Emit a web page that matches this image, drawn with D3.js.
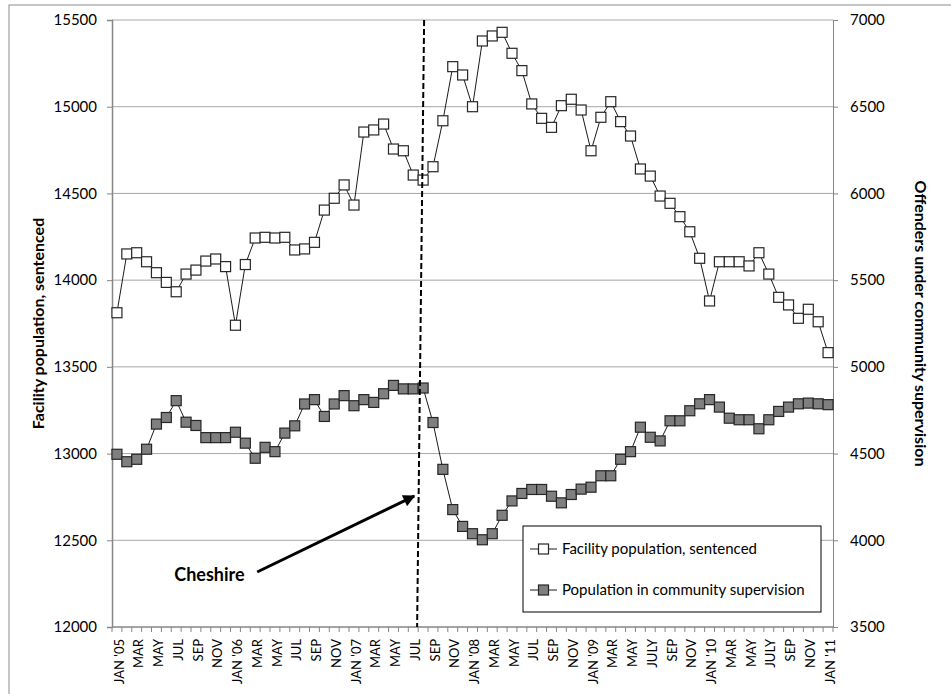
<!doctype html>
<html>
<head>
  <meta charset="utf-8">
  <script src="https://d3js.org/d3.v7.min.js"></script>
  <style>
    body { margin: 0; background: #fff; }
    svg text { font-family: Lato, "Open Sans", sans-serif; fill: #000; }
  </style>
</head>
<body>
<svg width="951" height="694"></svg>
<script>
// month labels, Jan 2005 .. Jan 2011 (empty = unlabelled month)
var months = [
  "JAN '05","","MAR","","MAY","","JUL","","SEP","","NOV","",
  "JAN '06","","MAR","","MAY","","JUL","","SEP","","NOV","",
  "JAN '07","","MAR","","MAY","","JUL","","SEP","","NOV","",
  "JAN '08","","MAR","","MAY","","JUL","","SEP","","NOV","",
  "JAN '09","","MAR","","MAY","","JULY","","SEP","","NOV","",
  "JAN '10","","MAR","","MAY","","JULY","","SEP","","NOV","",
  "JAN '11"
]

// facility population, sentenced (left axis)
var facility = [
  13812, 14151, 14158, 14106, 14043, 13987, 13933, 14035, 14058, 14110,
  14122, 14078, 13740, 14090, 14243, 14247, 14243, 14247, 14174, 14180,
  14218, 14404, 14472, 14549, 14433, 14854, 14866, 14900, 14756, 14746,
  14606, 14577, 14654, 14919, 15231, 15183, 15000, 15379, 15408, 15429,
  15308, 15208, 15016, 14933, 14881, 15006, 15043, 14981, 14746, 14939,
  15029, 14914, 14831, 14641, 14600, 14485, 14443, 14366, 14279, 14126,
  13880, 14106, 14106, 14106, 14082, 14158, 14035, 13901, 13857, 13780,
  13832, 13760, 13582
]

// population in community supervision (right axis)
var supervision = [
  4496, 4453, 4467, 4525, 4670, 4708, 4805, 4681, 4662, 4592,
  4592, 4592, 4623, 4560, 4473, 4536, 4511, 4618, 4660, 4786,
  4811, 4714, 4786, 4834, 4776, 4811, 4795, 4845, 4893, 4873,
  4873, 4878, 4679, 4409, 4177, 4080, 4038, 4003, 4038, 4144,
  4227, 4270, 4293, 4293, 4254, 4216, 4264, 4295, 4306, 4372,
  4372, 4467, 4511, 4652, 4594, 4573, 4689, 4689, 4747, 4787,
  4811, 4768, 4704, 4695, 4695, 4643, 4695, 4743, 4768, 4787,
  4791, 4787, 4782
]

var leftTicks = [12000, 12500, 13000, 13500, 14000, 14500, 15000, 15500]
var rightTicks = [3500, 4000, 4500, 5000, 5500, 6000, 6500, 7000]
var seriesNames = ["Facility population, sentenced", "Population in community supervision"]

// Cheshire annotation (month index, left-axis value)
var cheshireMonth = 31
var cheshireLabel = {text: "Cheshire", i: 5.8, v: 12265}
var cheshireArrow = {i0: 14.2, v0: 12317, i1: 30.1, v1: 12755}

var svg = d3.select("svg")
var pL = 112, pR = 833, pT = 20, pB = 627

svg.append("rect")
  .attr("x", 9).attr("y", 5).attr("width", 960).attr("height", 720)
  .attr("fill", "none").attr("stroke", "#8e8e8e")

var idx = d3.range(months.length)
var x = d3.scaleBand().domain(idx).range([pL, pR])
var xc = function(i) { return pL + (i + 0.5) * x.step() }
var yL = d3.scaleLinear().domain([12000, 15500]).range([pB, pT])
var yR = d3.scaleLinear().domain([3500, 7000]).range([pB, pT])

// gridlines
svg.append("g").selectAll("line")
  .data(leftTicks.slice(1))
  .enter().append("line")
  .attr("x1", pL).attr("x2", pR)
  .attr("y1", function(d) { return yL(d) }).attr("y2", function(d) { return yL(d) })
  .attr("stroke", "#a6a6a6").attr("stroke-width", 1)

// left axis
var gl = svg.append("g").attr("transform", "translate(" + pL + ",0)")
  .call(d3.axisLeft(yL).tickValues(leftTicks).tickSize(5).tickPadding(10).tickFormat(d3.format("d")))
gl.select(".domain").attr("stroke", "#868686").attr("stroke-width", 1.5)
gl.selectAll(".tick line").attr("stroke", "#868686")
gl.selectAll("text").attr("font-size", "15px").attr("font-family", "Lato")

// right axis
var gr = svg.append("g").attr("transform", "translate(" + pR + ",0)")
  .call(d3.axisRight(yR).tickValues(rightTicks).tickSize(5).tickPadding(12).tickFormat(d3.format("d")))
gr.select(".domain").attr("stroke", "#868686").attr("stroke-width", 1)
gr.selectAll(".tick line").attr("stroke", "#868686")
gr.selectAll("text").attr("font-size", "15px").attr("font-family", "Lato")

// bottom axis line + month ticks
svg.append("line")
  .attr("x1", pL).attr("x2", pR).attr("y1", pB).attr("y2", pB)
  .attr("stroke", "#868686").attr("stroke-width", 1.5)
svg.append("g").selectAll("line")
  .data(d3.range(months.length + 1))
  .enter().append("line")
  .attr("x1", function(i) { return pL + i * x.step() })
  .attr("x2", function(i) { return pL + i * x.step() })
  .attr("y1", pB).attr("y2", pB + 5)
  .attr("stroke", "#868686")

svg.append("g").selectAll("text")
  .data(idx.filter(function(i) { return months[i] != "" }))
  .enter().append("text")
  .attr("transform", function(i) { return "translate(" + (xc(i) + 2) + "," + (pB + 12) + ") rotate(-90)" })
  .attr("text-anchor", "end")
  .attr("dy", "0.35em")
  .attr("font-size", "13px")
  .text(function(i) { return months[i] })

// axis titles
svg.append("text")
  .attr("transform", "translate(38," + ((pT + pB) / 2) + ") rotate(-90)")
  .attr("text-anchor", "middle").attr("dy", "0.35em")
  .attr("font-size", "16px").attr("font-weight", "bold")
  .text("Facility population, sentenced")
svg.append("text")
  .attr("transform", "translate(921," + ((pT + pB) / 2) + ") rotate(90)")
  .attr("text-anchor", "middle").attr("dy", "0.35em")
  .attr("font-size", "16px").attr("font-weight", "bold")
  .text("Offenders under community supervision")

// series
var lineL = d3.line().x(function(d, i) { return xc(i) }).y(function(d) { return yL(d) })
var lineR = d3.line().x(function(d, i) { return xc(i) }).y(function(d) { return yR(d) })

svg.append("path").datum(facility).attr("d", lineL)
  .attr("fill", "none").attr("stroke", "#1a1a1a").attr("stroke-width", 1)
svg.append("path").datum(supervision).attr("d", lineR)
  .attr("fill", "none").attr("stroke", "#1a1a1a").attr("stroke-width", 1)

var ms = 10
svg.append("g").selectAll("rect")
  .data(facility)
  .enter().append("rect")
  .attr("x", function(d, i) { return xc(i) - ms / 2 })
  .attr("y", function(d) { return yL(d) - ms / 2 })
  .attr("width", ms).attr("height", ms)
  .attr("fill", "#fff").attr("stroke", "#262626").attr("stroke-width", 1.2)

svg.append("g").selectAll("rect")
  .data(supervision)
  .enter().append("rect")
  .attr("x", function(d, i) { return xc(i) - ms / 2 })
  .attr("y", function(d) { return yR(d) - ms / 2 })
  .attr("width", ms).attr("height", ms)
  .attr("fill", "#7f7f7f").attr("stroke", "#262626").attr("stroke-width", 1.2)

// Cheshire dashed line
svg.append("line")
  .attr("x1", xc(cheshireMonth) + 1).attr("y1", pT)
  .attr("x2", xc(cheshireMonth) - 6).attr("y2", pB)
  .attr("stroke", "#000").attr("stroke-width", 2).attr("stroke-dasharray", "6,3")

// arrow
svg.append("defs").append("marker")
  .attr("id", "arrow").attr("viewBox", "0 0 10 10")
  .attr("refX", 9).attr("refY", 5)
  .attr("markerWidth", 4.5).attr("markerHeight", 4)
  .attr("markerUnits", "strokeWidth").attr("orient", "auto")
  .append("path").attr("d", "M0,0 L10,5 L0,10 Z").attr("fill", "#000")

svg.append("line")
  .attr("x1", xc(cheshireArrow.i0)).attr("y1", yL(cheshireArrow.v0))
  .attr("x2", xc(cheshireArrow.i1)).attr("y2", yL(cheshireArrow.v1))
  .attr("stroke", "#000").attr("stroke-width", 3)
  .attr("marker-end", "url(#arrow)")

svg.append("text")
  .attr("x", xc(cheshireLabel.i)).attr("y", yL(cheshireLabel.v))
  .attr("font-size", "18px").attr("font-weight", "bold")
  .text(cheshireLabel.text)

// legend
var lg = svg.append("g").attr("transform", "translate(523,526)")
lg.append("rect").attr("width", 298).attr("height", 86)
  .attr("fill", "#fff").attr("stroke", "#000").attr("stroke-width", 1)
var fills = ["#fff", "#7f7f7f"]
seriesNames.forEach(function(name, k) {
  var ly = 23 + k * 41
  lg.append("line").attr("x1", 7).attr("x2", 34).attr("y1", ly).attr("y2", ly)
    .attr("stroke", "#1a1a1a")
  lg.append("rect").attr("x", 20.5 - ms / 2).attr("y", ly - ms / 2)
    .attr("width", ms).attr("height", ms)
    .attr("fill", fills[k]).attr("stroke", "#262626").attr("stroke-width", 1.2)
  lg.append("text").attr("x", 39).attr("y", ly).attr("dy", "0.35em")
    .attr("font-size", "15px").text(name)
})
</script>
</body>
</html>
